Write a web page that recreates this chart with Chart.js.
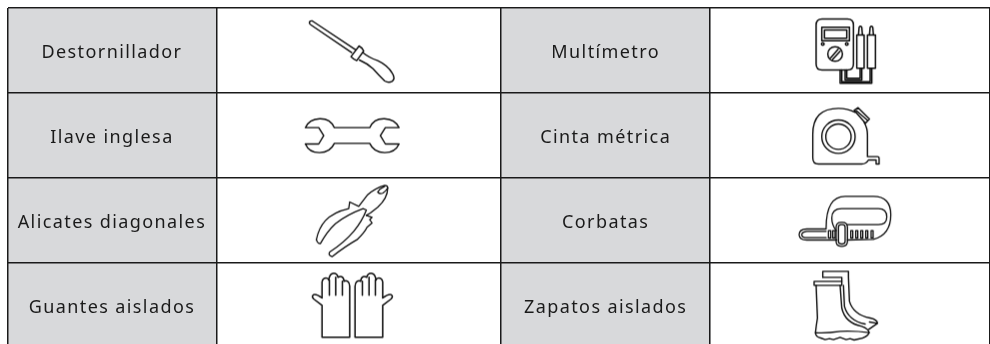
<!DOCTYPE html>
<html lang="es">
<head>
<meta charset="utf-8">
<title>Herramientas</title>
<script src="https://cdn.jsdelivr.net/npm/chart.js@4/dist/chart.umd.min.js"></script>
<style>
html,body{margin:0;padding:0;background:#fff;overflow:hidden;width:990px;height:344px}
canvas{display:block}
</style>
</head>
<body>
<canvas id="c" width="990" height="348"></canvas>
<script>
const leftNames  = ['Destornillador', 'Ilave inglesa', 'Alicates diagonales', 'Guantes aislados'];
const rightNames = ['Multímetro', 'Cinta métrica', 'Corbatas', 'Zapatos aislados'];
const columnEdges = [0, 209, 494, 703, 983];
const rowEdges = [0, 1, 2, 3, 4];
const leftIcons  = ['screwdriver', 'wrench', 'pliers', 'gloves'];
const rightIcons = ['multimeter', 'tape', 'tie', 'boots'];

const INK = '#1a1a1a';
const GLYPH = '#0d0d0d';
const GREY = '#d8d9db';

/* Icon glyphs: outlines in a 3x local box of 360x258 */
const glyphs = {
  screwdriver: {lw: 4.2, dx: -8.5, dy: 2.5, paths: [
    'M66 33 Q58 31 57 38 Q57 42 62 45 L184 128 M66 33 L195 119',
    'M206 108 Q216 113 220 123 L199 152 Q190 148 182 140 Z',
    'M218 128 Q235 142 262 152 Q292 166 306 190 Q316 206 305 214 Q295 220 283 213 Q265 195 248 176 Q230 160 207 150'
  ]},
  wrench: {lw: 4.2, dx: -8.5, dy: 2.5, paths: [
    'M45 98 C60 65 115 60 132 98 L238 98 C255 60 310 65 326 98 L285 98 L270 122 L285 147 L326 147 C310 182 255 182 238 145 L132 145 C115 182 60 182 45 147 L85 147 L100 122 L85 98 Z'
  ]},
  pliers: {lw: 3.9, dx: -8.5, dy: 0.5, paths: [
    'M78 185 Q85 150 105 128 Q130 102 175 92 L178 72 L205 85 L232 50 Q255 30 283 22 Q292 22 292 30 Q292 60 262 88 L240 105 L228 112',
    'M262 42 Q270 30 283 25 M262 42 Q268 50 278 45 Q288 38 292 30',
    'M78 185 Q82 198 90 197 Q110 160 135 137 Q170 110 218 92 L228 96 Q215 130 190 160 Q160 195 118 222 Q112 232 125 236 Q165 205 200 185 Q222 165 230 148 L245 135 L238 125 L245 118 L228 112'
  ]},
  gloves: {lw: 4.5, dx: -8.5, dy: -4.5, mirror: 372, paths: [
    'M95 238 L95 142 L70 123 Q62 115 70 110 Q78 107 95 120 L95 72 Q97 60 107 60 Q113 60 115 66 Q118 46 130 46 Q140 46 143 58 Q148 54 154 56 Q160 58 161 70 Q166 66 172 70 Q178 74 178 85 L178 238 Z',
    'M117 66 L117 112 M136 58 L136 112 M156 70 L156 112'
  ]},
  multimeter: {lw: 4.5, dx: 0, dy: 2.5, paths: [
    'M96 27 L172 27 Q190 27 190 45 L190 162 Q190 180 172 180 L96 180 Q78 180 78 162 L78 45 Q78 27 96 27 Z',
    'M95 52 H178 V92 H95 Z M103 60 H170 V85 H103 Z',
    'M102 102 A4 4 0 1 1 94 102 A4 4 0 1 1 102 102 M174 102 A4 4 0 1 1 166 102 A4 4 0 1 1 174 102',
    'M157 132 A22 22 0 1 1 113 132 A22 22 0 1 1 157 132 M122 143 L144 118 M128 148 L150 124',
    'M200 75 H222 V175 H200 Z M232 75 H256 V175 H232 Z',
    'M205 75 L207 52 Q211 46 215 52 L217 75 M238 75 L240 52 Q244 46 248 52 L250 75',
    'M150 180 V220 H245 V175 M155 180 V215 H240 V175 M165 180 V210 H215 V175 M170 180 V205 H210 V175'
  ]},
  tape: {lw: 4.2, dx: 0, dy: 2.5, paths: [
    'M85 207 Q68 207 68 188 L68 118 Q68 40 145 40 Q172 40 195 52 M222 82 Q232 98 232 120 L232 185 L262 185 Q267 185 267 190 L267 207 L258 207 L258 195 L235 195 Q228 207 215 207 L85 207',
    'M195 125 A50 50 0 1 1 95 125 A50 50 0 1 1 195 125 M183 125 A38 38 0 1 1 107 125 A38 38 0 1 1 183 125',
    'M192 46 L204 38 L238 72 L226 85 Z M199 47 L232 76'
  ]},
  tie: {lw: 3.9, dx: 0, dy: 0.5, paths: [
    'M108 150 Q108 55 165 55 L250 55 Q302 55 302 110 Q302 170 250 184 L172 186 M140 186 L50 186 Q28 186 27 170 Q28 153 50 153 L108 153',
    'M108 160 L50 160 Q35 162 35 170 Q35 179 50 179 L108 179',
    'M138 158 Q125 140 125 120 Q125 92 155 92 L265 92 Q290 92 290 117 Q290 140 265 140 L172 140',
    'M115 158 H122 V180 H115 Z M128 158 H135 V180 H128 Z M182 158 H188 V180 H182 Z M197 158 H203 V180 H197 Z M212 158 H218 V180 H212 Z M227 158 H233 V180 H227 Z M243 158 H249 V180 H243 Z',
    'M153 133 H157 Q172 133 172 148 V190 Q172 205 157 205 H153 Q138 205 138 190 V148 Q138 133 153 133 Z',
    'M153 140 H157 Q165 140 165 148 V190 Q165 198 157 198 H153 Q145 198 145 190 V148 Q145 140 153 140 Z'
  ]},
  boots: {lw: 4.2, dx: 0, dy: -4.5, paths: [
    'M98 58 V40 H175 V58 L178 130 Q190 170 240 180 Q262 185 262 196 L236 214 M238 192 L262 196',
    'M98 58 H155 V70 M160 82 L163 145 Q175 188 225 198',
    'M72 70 H155 V82 H72 Z',
    'M78 82 L82 180 Q78 205 76 224 M150 82 L155 150 Q165 195 215 205 Q235 212 237 224',
    'M76 224 Q110 226 150 220 Q195 218 237 224 Q232 238 205 243 L192 246 L180 242 L168 245 L150 238 L130 245 L118 242 L105 245 L92 240 Q76 236 76 224 Z'
  ]}
};

function makeIcon(name) {
  const g = glyphs[name];
  const cv = document.createElement('canvas');
  cv.width = 120; cv.height = 86;
  const c = cv.getContext('2d');
  c.translate(g.dx, g.dy);
  c.scale(1 / 3, 1 / 3);
  c.strokeStyle = GLYPH;
  c.lineWidth = g.lw;
  c.lineJoin = 'round';
  c.lineCap = 'round';
  const drawAll = () => g.paths.forEach(p => c.stroke(new Path2D(p)));
  drawAll();
  if (g.mirror) { c.translate(g.mirror, 0); c.scale(-1, 1); drawAll(); }
  return cv;
}

const mid = (a, b) => (a + b) / 2;
const colCentre = i => mid(columnEdges[i], columnEdges[i + 1]);
const rowCentre = i => mid(rowEdges[i], rowEdges[i + 1]);
const rowIdx = leftNames.map((_, i) => i);

const greyCells = col => rowIdx.map(r => ({x: colCentre(col), y: [rowEdges[r], rowEdges[r + 1]]}));
const iconPoints = col => rowIdx.map(r => ({x: colCentre(col), y: rowCentre(r)}));

const cellText = {
  id: 'cellText',
  afterDatasetsDraw(chart) {
    const {ctx, scales: {x, y}} = chart;
    ctx.save();
    ctx.fillStyle = INK;
    ctx.font = '18px "Noto Sans"';
    ctx.letterSpacing = '1.4px';
    ctx.textAlign = 'center';
    ctx.textBaseline = 'middle';
    [[0, leftNames], [2, rightNames]].forEach(([col, names]) => {
      names.forEach((t, r) => ctx.fillText(t, x.getPixelForValue(colCentre(col)), y.getPixelForValue(rowCentre(r)) + 2));
    });
    ctx.restore();
  }
};

new Chart(document.getElementById('c'), {
  type: 'bar',
  plugins: [cellText],
  data: {
    datasets: [
      {type: 'scatter', order: 0, clip: false, data: iconPoints(1), pointStyle: leftIcons.map(makeIcon), pointRadius: 10},
      {type: 'scatter', order: 0, clip: false, data: iconPoints(3), pointStyle: rightIcons.map(makeIcon), pointRadius: 10},
      {type: 'bar', order: 1, data: greyCells(0), backgroundColor: GREY, barThickness: columnEdges[1] - columnEdges[0], grouped: false, borderWidth: 0},
      {type: 'bar', order: 1, data: greyCells(2), backgroundColor: GREY, barThickness: columnEdges[3] - columnEdges[2], grouped: false, borderWidth: 0}
    ]
  },
  options: {
    responsive: false,
    animation: false,
    events: [],
    layout: {autoPadding: false, padding: {left: 7.5, top: 8, right: 0, bottom: 0}},
    plugins: {legend: {display: false}, tooltip: {enabled: false}, title: {display: false}},
    scales: {
      x: {
        type: 'linear', position: 'top', offset: false,
        min: columnEdges[0], max: columnEdges[4],
        afterBuildTicks: s => { s.ticks = columnEdges.map(v => ({value: v})); },
        ticks: {display: false, autoSkip: false},
        grid: {color: INK, lineWidth: 1.5, drawTicks: false, offset: false, z: 1},
        border: {display: false}
      },
      y: {
        type: 'linear', reverse: true,
        min: rowEdges[0], max: rowEdges[4],
        afterBuildTicks: s => { s.ticks = rowEdges.map(v => ({value: v})); },
        ticks: {display: false, autoSkip: false},
        grid: {color: INK, lineWidth: 1.5, drawTicks: false, z: 1},
        border: {display: false}
      }
    }
  }
});
</script>
</body>
</html>
